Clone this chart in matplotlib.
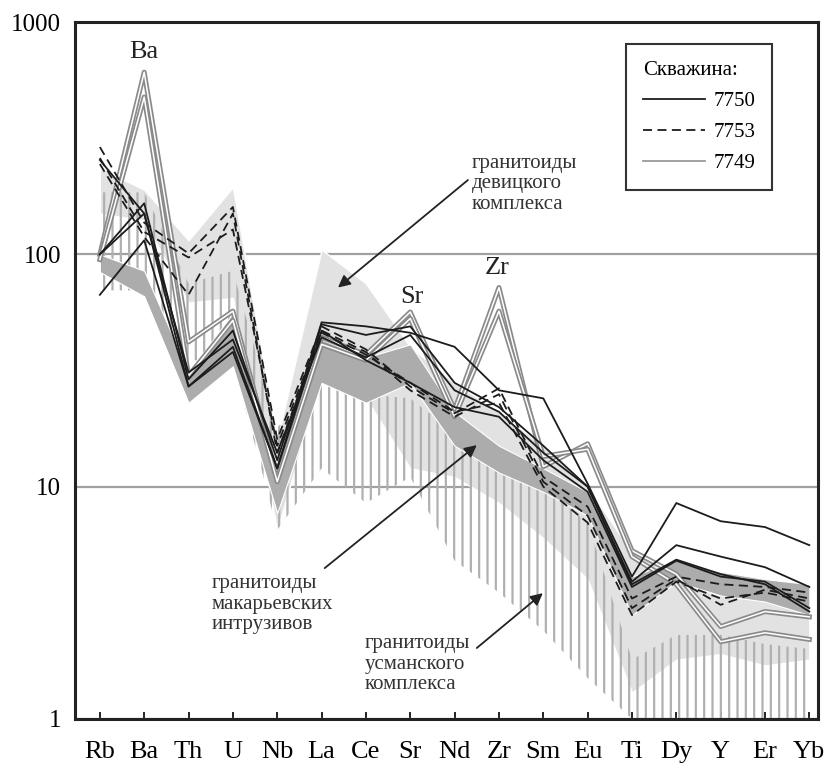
import numpy as np
import matplotlib
matplotlib.use("Agg")
import matplotlib.pyplot as plt
import matplotlib.patheffects as pe
from matplotlib.lines import Line2D

plt.rcParams['font.family'] = ['Liberation Serif', 'DejaVu Serif']
plt.rcParams['hatch.linewidth'] = 1.6
plt.rcParams['hatch.color'] = '#b0b0b0'

elements = ['Rb', 'Ba', 'Th', 'U', 'Nb', 'La', 'Ce', 'Sr', 'Nd', 'Zr',
            'Sm', 'Eu', 'Ti', 'Dy', 'Y', 'Er', 'Yb']

# поле гранитоидов девицкого комплекса (светло-серое)
dev_top = [235, 190, 115, 195, 16, 105, 75, 40, 28, 21, 15, 10, 5.2, 4.2, 3.8, 3.6, 3.5]
dev_bot = [150, 140, 62, 65, 6.5, 30, 24, 12, 11, 8.5, 6, 4, 1.3, 1.8, 1.9, 1.7, 1.8]

# поле гранитоидов усманского комплекса (штриховка)
usm_top = [185, 185, 75, 85, 18, 28, 25, 24, 17, 14, 10, 7, 1.8, 2.3, 2.3, 2.1, 2.0]
usm_bot = [70, 70, 35, 35, 6.5, 12, 8.5, 11, 4.8, 3.5, 2.4, 1.5, 1.0, 1.0, 1.0, 1.0, 1.0]

# поле гранитоидов макарьевских интрузивов (серое)
mak_top = [100, 85, 31, 56, 12, 43, 36, 41, 21, 15, 12, 9.5, 4.1, 4.85, 4.3, 4.0, 3.8]
mak_bot = [84, 66, 23, 33, 7.7, 28, 23, 28, 15, 11.5, 9.5, 7.5, 2.8, 3.9, 3.4, 3.2, 2.8]

# скважина 7750
w7750 = [
    [255, 150, 27, 40, 12, 51, 49, 46, 40, 26, 24, 10.3, 4.1, 8.5, 7.1, 6.7, 5.6],
    [100, 166, 29, 47, 13, 50, 45, 49, 28, 22, 15, 10, 3.9, 5.6, 5.0, 4.5, 3.7],
    [67, 115, 27, 38, 12, 47, 35, 28, 22, 20, 13, 9.5, 3.7, 4.8, 4.1, 3.9, 3.0],
    [100, 150, 31, 43, 14, 44, 36, 45, 26, 21, 14, 10, 3.8, 4.85, 4.2, 3.8, 2.9],
]
# скважина 7753
w7753 = [
    [290, 137, 101, 160, 16, 49, 39, 27, 20.7, 26.5, 11, 8.2, 3.3, 4.1, 3.8, 3.7, 3.5],
    [260, 125, 97, 128, 15, 47, 38, 26, 20, 25, 10.5, 7.5, 3.0, 4.0, 3.1, 3.6, 3.3],
    [245, 119, 67, 150, 14, 46, 37, 28, 21, 23, 10, 7, 2.8, 3.9, 3.3, 3.5, 3.2],
]
# скважина 7749
w7749 = [
    [100, 609, 42, 57, 11, 44, 37, 56.5, 21.4, 72, 12.2, 15.3, 5.3, 4.2, 2.5, 2.9, 2.75],
    [95, 476, 30, 52, 10.5, 41, 35, 53, 20, 57, 13.5, 14.5, 5.0, 3.8, 2.15, 2.35, 2.2],
]

x = np.arange(len(elements))

fig = plt.figure(figsize=(8.29, 7.64), dpi=100)
ax = fig.add_axes([0.0905, 0.059, 0.8965, 0.912])
ax.set_yscale('log')
ax.set_ylim(1, 1000)
ax.set_xlim(-0.56, 16.2)

ax.fill_between(x, dev_bot, dev_top, facecolor='#e2e2e2', edgecolor='white', lw=1.0, zorder=1)
ax.fill_between(x, usm_bot, usm_top, facecolor='none', edgecolor='#b0b0b0', hatch='||', lw=0, zorder=1.5)
ax.fill_between(x, mak_bot, mak_top, facecolor='#acacac', edgecolor='white', lw=0.8, zorder=2)

for row in w7749:
    ax.plot(x, row, color='white', lw=1.1, zorder=3,
            path_effects=[pe.Stroke(linewidth=3.6, foreground='#8a8a8a'), pe.Normal()])
for row in w7753:
    ax.plot(x, row, color='#1c1c1c', lw=1.3, ls=(0, (5, 3)), zorder=4)
for row in w7750:
    ax.plot(x, row, color='#1c1c1c', lw=1.3, zorder=4)

ax.yaxis.grid(True, which='major', color='#a0a0a0', lw=1.6)
ax.set_axisbelow(True)

ax.set_xticks(x)
ax.set_xticklabels(elements, fontsize=19)
ax.set_yticks([1, 10, 100, 1000])
ax.set_yticklabels(['1', '10', '100', '1000'], fontsize=18)
ax.yaxis.set_minor_locator(matplotlib.ticker.NullLocator())
ax.tick_params(axis='x', direction='in', length=5, width=1.4, pad=16, color='#222')
ax.tick_params(axis='y', length=0, pad=10)
for s in ax.spines.values():
    s.set_linewidth(2.2)
    s.set_color('#222')

# подписи элементов
ax.text(1, 743, 'Ba', fontsize=19, ha='center', va='center', color='#222')
ax.text(7.03, 65.5, 'Sr', fontsize=19, ha='center', va='center', color='#222')
ax.text(8.95, 87.4, 'Zr', fontsize=19, ha='center', va='center', color='#222')

# подписи полей со стрелками
arrow = dict(arrowstyle='-|>', color='#222', lw=1.3, mutation_scale=18, shrinkA=0, shrinkB=0)
ax.text(8.39, 201, 'гранитоиды\nдевицкого\nкомплекса', fontsize=15, ha='left', va='center',
        linespacing=1.1, color='#333')
ax.annotate('', xy=(5.37, 72), xytext=(8.3, 209), arrowprops=arrow, zorder=5)

ax.text(2.53, 3.12, 'гранитоиды\nмакарьевских\nинтрузивов', fontsize=15, ha='left', va='center',
        linespacing=1.1, color='#333')
ax.annotate('', xy=(8.5, 15.1), xytext=(5.07, 4.46), arrowprops=arrow, zorder=5)

ax.text(5.98, 1.72, 'гранитоиды\nусманского\nкомплекса', fontsize=15, ha='left', va='center',
        linespacing=1.1, color='#333')
ax.annotate('', xy=(9.99, 3.48), xytext=(8.5, 2.02), arrowprops=arrow, zorder=5)

# легенда
handles = [Line2D([], [], color='#1c1c1c', lw=1.3),
           Line2D([], [], color='#1c1c1c', lw=1.3, ls=(0, (5, 3))),
           Line2D([], [], color='#9a9a9a', lw=1.3)]
leg = ax.legend(handles, ['7750', '7753', '7749'], title='Скважина:', loc='upper right',
                bbox_to_anchor=(0.938, 0.968), borderaxespad=0, fontsize=15, title_fontsize=15,
                handlelength=3.0, handletextpad=0.4, labelspacing=0.55, borderpad=0.8,
                fancybox=False, framealpha=1, edgecolor='#333', alignment='left')
leg.get_frame().set_linewidth(1.5)
leg.set_zorder(6)

fig.savefig('out.png', dpi=100)
